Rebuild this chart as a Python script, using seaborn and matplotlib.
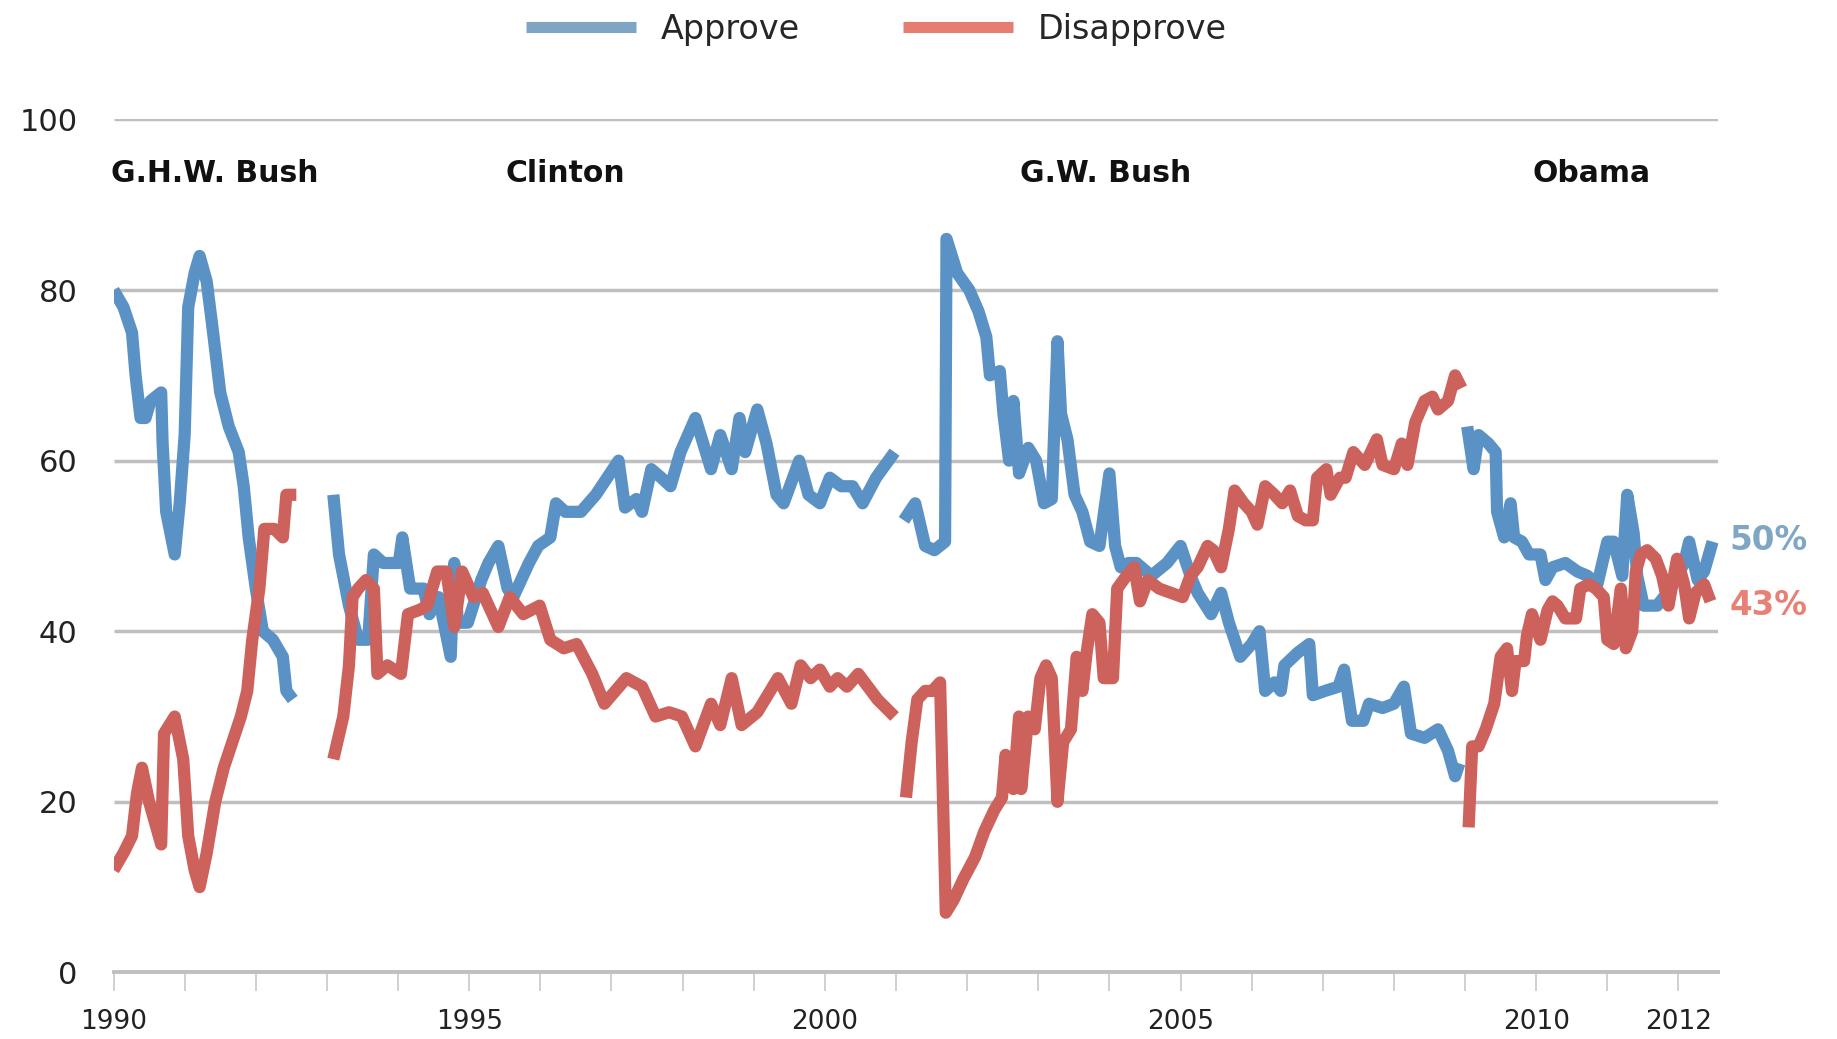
import matplotlib
matplotlib.use("Agg")
import matplotlib.pyplot as plt
import pandas as pd
import seaborn as sns
from matplotlib.lines import Line2D

# ---------------- data ----------------
ghwb_app_x = [1990.0, 1990.14, 1990.26, 1990.31, 1990.38, 1990.45, 1990.52, 1990.67, 1990.69, 1990.74,
              1990.86, 1990.93, 1991.0, 1991.05, 1991.14, 1991.21, 1991.31, 1991.4, 1991.5, 1991.62,
              1991.76, 1991.83, 1991.9, 1992.0, 1992.1, 1992.24, 1992.38, 1992.43, 1992.52]
ghwb_app_y = [80, 78, 75, 70, 65, 65, 67, 68, 62, 54, 49, 55, 63, 78, 82, 84, 81, 75, 68, 64,
              61, 57, 51, 45, 40, 39, 37, 33, 32]
ghwb_dis_x = [1990.0, 1990.14, 1990.26, 1990.33, 1990.4, 1990.5, 1990.67, 1990.71, 1990.86, 1990.98,
              1991.05, 1991.14, 1991.21, 1991.31, 1991.43, 1991.55, 1991.67, 1991.79, 1991.88, 1991.95,
              1992.05, 1992.12, 1992.26, 1992.38, 1992.43, 1992.57]
ghwb_dis_y = [12, 14, 16, 21, 24, 20, 15, 28, 30, 25, 16, 12, 10, 14, 20, 24, 27, 30, 33, 39,
              45, 52, 52, 51, 56, 56]

clinton_app_x = [1993.09, 1993.17, 1993.31, 1993.44, 1993.58, 1993.66, 1993.79, 1994.01, 1994.06, 1994.17,
                 1994.25, 1994.36, 1994.44, 1994.57, 1994.74, 1994.79, 1994.84, 1994.98, 1995.17, 1995.27,
                 1995.41, 1995.54, 1995.62, 1995.73, 1995.84, 1995.97, 1996.14, 1996.22, 1996.35, 1996.57,
                 1996.78, 1997.1, 1997.19, 1997.35, 1997.43, 1997.56, 1997.7, 1997.83, 1997.97, 1998.18,
                 1998.4, 1998.53, 1998.69, 1998.8, 1998.88, 1999.05, 1999.18, 1999.32, 1999.42, 1999.64,
                 1999.77, 1999.93, 2000.07, 2000.23, 2000.39, 2000.53, 2000.72, 2000.98]
clinton_app_y = [56, 49, 43, 39, 39, 49, 48, 48, 51, 45,
                 45, 45, 42, 44, 37, 48, 41, 41, 46, 48,
                 50, 45, 44, 46, 48, 50, 51, 55, 54, 54,
                 56, 60, 54.5, 55.5, 54, 59, 58, 57, 61, 65,
                 59, 63, 59, 65, 61, 66, 62, 56, 55, 60,
                 56, 55, 58, 57, 57, 55, 58, 61]
clinton_dis_x = [1993.09, 1993.23, 1993.31, 1993.36, 1993.44, 1993.55, 1993.66, 1993.71, 1993.85, 1994.04,
                 1994.14, 1994.3, 1994.41, 1994.55, 1994.68, 1994.79, 1994.9, 1995.06, 1995.19, 1995.41,
                 1995.57, 1995.76, 1995.99, 1996.14, 1996.33, 1996.51, 1996.73, 1996.9, 1997.21, 1997.43,
                 1997.62, 1997.81, 1997.99, 1998.18, 1998.4, 1998.53, 1998.69, 1998.83, 1999.05, 1999.34,
                 1999.53, 1999.66, 1999.8, 1999.93, 2000.07, 2000.18, 2000.31, 2000.47, 2000.74, 2000.98]
clinton_dis_y = [25, 30, 36, 44, 45, 46, 45, 35, 36, 35,
                 42, 42.5, 43, 47, 47, 40.5, 47, 44, 44.5, 40.5,
                 44, 42, 43, 39, 38, 38.5, 35, 31.5, 34.5, 33.5,
                 30, 30.5, 30, 26.5, 31.5, 29, 34.5, 29, 30.5, 34.5,
                 31.5, 36, 34.5, 35.5, 33.5, 34.5, 33.5, 35, 32, 30]

gwb_app_x = [2001.11, 2001.27, 2001.41, 2001.54, 2001.69, 2001.71, 2001.86, 2002.03, 2002.16, 2002.27,
             2002.32, 2002.46, 2002.51, 2002.59, 2002.65, 2002.73, 2002.86, 2002.97, 2003.08, 2003.19,
             2003.27, 2003.32, 2003.41, 2003.51, 2003.62, 2003.73, 2003.86, 2004.0, 2004.08, 2004.16,
             2004.27, 2004.38, 2004.59, 2004.81, 2005.0, 2005.14, 2005.24, 2005.43, 2005.57, 2005.68,
             2005.84, 2006.0, 2006.11, 2006.19, 2006.32, 2006.41, 2006.46, 2006.65, 2006.81, 2006.86,
             2007.03, 2007.22, 2007.3, 2007.41, 2007.57, 2007.65, 2007.84, 2008.0, 2008.14, 2008.24,
             2008.43, 2008.62, 2008.76, 2008.86, 2008.92]
gwb_app_y = [53, 55, 50, 49.5, 50.5, 86, 82, 80, 77.5, 74.5,
             70, 70.5, 65.5, 60, 67, 58.5, 61.5, 60, 55, 55.5,
             74, 65.5, 62.5, 56, 54, 50.5, 50, 58.5, 50, 47.5,
             48, 48, 46.5, 48, 50, 46.5, 44.5, 42, 44.5, 41,
             37, 38.5, 40, 33, 34, 33, 36, 37.5, 38.5, 32.5,
             33, 33.5, 35.5, 29.5, 29.5, 31.5, 31, 31.5, 33.5, 28,
             27.5, 28.5, 26, 23, 24.5]
gwb_dis_x = [2001.14, 2001.22, 2001.3, 2001.41, 2001.51, 2001.62, 2001.7, 2001.81, 2001.95, 2002.11,
             2002.24, 2002.38, 2002.49, 2002.54, 2002.65, 2002.73, 2002.76, 2002.86, 2002.95, 2003.03,
             2003.11, 2003.19, 2003.27, 2003.35, 2003.46, 2003.54, 2003.62, 2003.68, 2003.76, 2003.86,
             2003.92, 2004.05, 2004.11, 2004.24, 2004.35, 2004.43, 2004.54, 2004.7, 2005.03, 2005.14,
             2005.24, 2005.38, 2005.46, 2005.57, 2005.68, 2005.76, 2005.89, 2006.0, 2006.08, 2006.19,
             2006.32, 2006.43, 2006.54, 2006.65, 2006.76, 2006.86, 2006.92, 2007.05, 2007.11, 2007.24,
             2007.32, 2007.43, 2007.59, 2007.76, 2007.84, 2008.0, 2008.11, 2008.19, 2008.3, 2008.43,
             2008.54, 2008.62, 2008.76, 2008.86, 2008.95]
gwb_dis_y = [20.5, 27, 32, 33, 33, 34, 7, 8.5, 11, 13.5,
             16.5, 19, 20.5, 25.5, 21.5, 30, 21.5, 30, 28.5, 34.5,
             36, 34.5, 20, 27, 28.5, 37, 33, 37.5, 42, 41,
             34.5, 34.5, 45, 46.5, 47.5, 43.5, 46, 45, 44, 46.5,
             47.5, 50, 49.5, 47.5, 52, 56.5, 55, 54, 52.5, 57,
             56, 55, 56.5, 53.5, 53, 53, 58, 59, 56, 58,
             58, 61, 59.5, 62.5, 59.5, 59, 62, 59.5, 64.5, 67,
             67.5, 66, 67, 70, 68.5]

obama_app_x = [2009.03, 2009.12, 2009.19, 2009.33, 2009.43, 2009.45, 2009.55, 2009.64, 2009.69, 2009.8,
               2009.9, 2010.06, 2010.13, 2010.23, 2010.41, 2010.58, 2010.72, 2010.86, 2011.0, 2011.09,
               2011.21, 2011.28, 2011.37, 2011.42, 2011.51, 2011.7, 2011.89, 2012.08, 2012.15, 2012.27,
               2012.36, 2012.48]
obama_app_y = [64, 59, 63, 62, 61, 54, 51, 55, 51, 50.5,
               49, 49, 46, 47.5, 48, 47, 46.5, 45.5, 50.5, 50.5,
               46.5, 56, 51.5, 46.5, 43, 43, 45, 48, 50.5, 46,
               47, 50.5]
obama_dis_x = [2009.05, 2009.1, 2009.19, 2009.29, 2009.41, 2009.5, 2009.59, 2009.66, 2009.71, 2009.83,
               2009.87, 2009.94, 2010.06, 2010.16, 2010.23, 2010.3, 2010.41, 2010.56, 2010.62, 2010.74,
               2010.84, 2010.95, 2011.0, 2011.09, 2011.19, 2011.26, 2011.35, 2011.4, 2011.47, 2011.56,
               2011.68, 2011.77, 2011.86, 2011.98, 2012.08, 2012.15, 2012.24, 2012.36, 2012.45]
obama_dis_y = [17, 26.5, 26.5, 28.5, 31.5, 37, 38, 33, 36.5, 36.5,
               39.5, 42, 39, 42.5, 43.5, 43, 41.5, 41.5, 45, 45.5,
               45, 44, 39, 38.5, 45, 38, 40, 47, 49, 49.5,
               48.5, 46.5, 43, 48.5, 45.5, 41.5, 44.5, 45.5, 43.5]

series_names = ["Approve", "Disapprove"]
president_names = ["G.H.W. Bush", "Clinton", "G.W. Bush", "Obama"]
president_label_x = [1991.42, 1996.35, 2003.95, 2010.78]
president_label_y = [93.7, 93.7, 93.7, 93.7]

end_labels = ["50%", "43%"]
end_values = [50.6, 43.0]

tick_years = list(range(1990, 2013))
tick_labels = [str(y) if y in (1990, 1995, 2000, 2005, 2010, 2012) else "" for y in tick_years]
y_ticks = [0, 20, 40, 60, 80, 100]

# ---------------- build table ----------------
parts = [
    ("ghwb", "Approve", ghwb_app_x, ghwb_app_y),
    ("ghwb", "Disapprove", ghwb_dis_x, ghwb_dis_y),
    ("clinton", "Approve", clinton_app_x, clinton_app_y),
    ("clinton", "Disapprove", clinton_dis_x, clinton_dis_y),
    ("gwb", "Approve", gwb_app_x, gwb_app_y),
    ("gwb", "Disapprove", gwb_dis_x, gwb_dis_y),
    ("obama", "Approve", obama_app_x, obama_app_y),
    ("obama", "Disapprove", obama_dis_x, obama_dis_y),
]
df = pd.concat([pd.DataFrame({"year": xs, "value": ys, "series": s, "term": t})
                for t, s, xs, ys in parts], ignore_index=True)

# ---------------- style ----------------
sns.set_theme(style="white")
plt.rcParams["font.family"] = ["DejaVu Sans"]
plt.rcParams["lines.solid_joinstyle"] = "round"
plt.rcParams["lines.solid_capstyle"] = "butt"

line_colors = {"Approve": "#5b92c6", "Disapprove": "#cd615b"}
legend_colors = {"Approve": "#7fa5c4", "Disapprove": "#e67d73"}
label_colors = ["#7fa6c3", "#e88076"]
grid_color = "#bfbfbf"

fig = plt.figure(figsize=(18.37, 10.39), dpi=100)
ax = fig.add_axes([0.0618, 0.0641, 0.935 - 0.0618, 0.885 - 0.0641])

sns.lineplot(data=df, x="year", y="value", hue="series", units="term",
             estimator=None, sort=False, palette=line_colors, linewidth=8.8,
             legend=False, ax=ax, zorder=3)

ax.set_xlim(1990, 2012.55)
ax.set_ylim(0, 100)
ax.set_xlabel("")
ax.set_ylabel("")

ax.set_yticks(y_ticks)
ax.set_yticklabels([str(v) for v in y_ticks])
ax.yaxis.grid(True, color=grid_color, linewidth=2.5)
ax.xaxis.grid(False)
ax.set_axisbelow(True)
ax.tick_params(axis="y", length=0, pad=26, labelsize=22, labelcolor="#222222")

ax.set_xticks(tick_years)
ax.set_xticklabels(tick_labels)
ax.tick_params(axis="x", direction="out", length=14, width=1.2, color="#c8c8c8",
               pad=12, labelsize=19, labelcolor="#222222", bottom=True)

for side in ["top", "right", "left"]:
    ax.spines[side].set_visible(False)
ax.spines["bottom"].set_color(grid_color)
ax.spines["bottom"].set_linewidth(2.8)

for name, lx, ly in zip(president_names, president_label_x, president_label_y):
    ax.text(lx, ly, name, ha="center", va="center", fontsize=21.5,
            fontweight="bold", color="#111111")

for txt, val, col in zip(end_labels, end_values, label_colors):
    ax.text(2012.72, val, txt, ha="left", va="center", fontsize=23.5,
            fontweight="bold", color=col, clip_on=False)

handles = [Line2D([0], [0], color=legend_colors[s], linewidth=8) for s in series_names]
fig.legend(handles, series_names, loc="center", bbox_to_anchor=(0.477, 0.972),
           ncol=2, frameon=False, fontsize=24, handlelength=3.3,
           columnspacing=3.1, handletextpad=0.75)

fig.savefig("out.png", dpi=100)
